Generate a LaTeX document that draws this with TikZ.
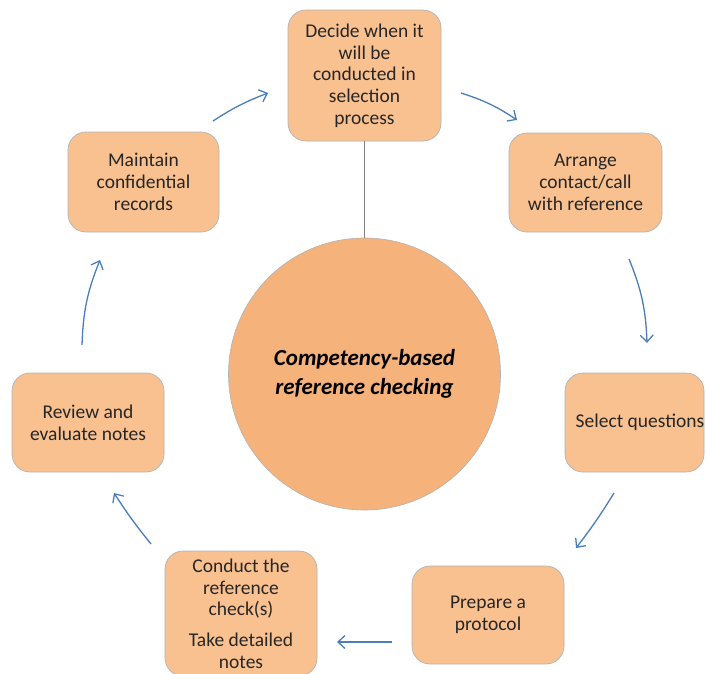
\documentclass[tikz,border=0pt]{standalone}
\usepackage{fontspec}
\setmainfont{Carlito}
\usetikzlibrary{arrows.meta}
\definecolor{boxfill}{HTML}{F9C190}
\definecolor{circfill}{HTML}{F5B27B}
\definecolor{arrowblue}{HTML}{4A7EBB}
\definecolor{txt}{HTML}{262626}
\tikzset{
  stepbox/.style={draw=black!30, line width=0.7pt, fill=boxfill, rounded corners=18pt,
    align=center, inner sep=0pt, text=txt,
    font=\fontsize{19.5pt}{21.7pt}\selectfont},
  hub/.style={circle, draw=black!30, line width=0.6pt, fill=circfill, minimum size=272pt,
    inner sep=0pt, align=center, font=\fontsize{23pt}{29.5pt}\selectfont\bfseries\itshape},
  flow/.style={draw=arrowblue, line width=1.3pt, -{Straight Barb[length=7pt,width=13pt,line width=1.3pt]}},
  spoke/.style={draw=black!50, line width=0.8pt}
}
\begin{document}
\begin{tikzpicture}[x=1pt,y=-1pt]
\useasboundingbox (0,0) rectangle (706,673);
% hub
\node[hub] (hub) at (364.5,374) {Competency-based\\reference checking};
% boxes
\node[stepbox, minimum width=153pt, minimum height=131pt] (decide) at (364.5,75.5)
  {Decide when it\\will be\\conducted in\\selection\\process};
\node[stepbox, minimum width=153pt, minimum height=99pt] (arrange) at (585.5,182.5)
  {Arrange\\contact/call\\with reference};
\node[stepbox, minimum width=139pt, minimum height=99pt] (select) at (634.5,422.5) {};
\node[text=txt, inner sep=0pt, font=\fontsize{19.5pt}{21.7pt}\selectfont] (selecttxt) at (640,422.5) {Select questions};
\node[stepbox, minimum width=152pt, minimum height=98pt] (prepare) at (488,615)
  {Prepare a\\protocol};
\node[stepbox, minimum width=152pt, minimum height=125pt] (conduct) at (241,613.5)
  {Conduct the\\reference\\check(s)\\[9pt]Take detailed\\notes};
\node[stepbox, minimum width=152pt, minimum height=99pt] (review) at (88,422.5)
  {Review and\\evaluate notes};
\node[stepbox, minimum width=151pt, minimum height=100pt] (maintain) at (143.5,182)
  {Maintain\\confidential\\records};
% spoke
\draw[spoke] (decide.south) -- (hub.north);
% arrow end points
\coordinate (a1s) at (213,121); \coordinate (a1e) at (268,93);
\coordinate (a2s) at (461,93);  \coordinate (a2e) at (517,120);
\coordinate (a3s) at (629,259); \coordinate (a3e) at (647,343);
\coordinate (a4s) at (614,493); \coordinate (a4e) at (576,548);
\coordinate (a5s) at (392,642); \coordinate (a5e) at (337,642);
\coordinate (a6s) at (151,544); \coordinate (a6e) at (114,493);
\coordinate (a7s) at (82,345);  \coordinate (a7e) at (100,260);
\draw[flow] (a1s) to[bend left=6] (a1e);
\draw[flow] (a2s) to[bend left=8] (a2e);
\draw[flow] (a3s) to[bend left=10] (a3e);
\draw[flow] (a4s) to[bend left=3] (a4e);
\draw[flow] (a5s) -- (a5e);
\draw[flow] (a6s) to[bend left=3] (a6e);
\draw[flow] (a7s) to[bend left=10] (a7e);
\end{tikzpicture}
\end{document}
